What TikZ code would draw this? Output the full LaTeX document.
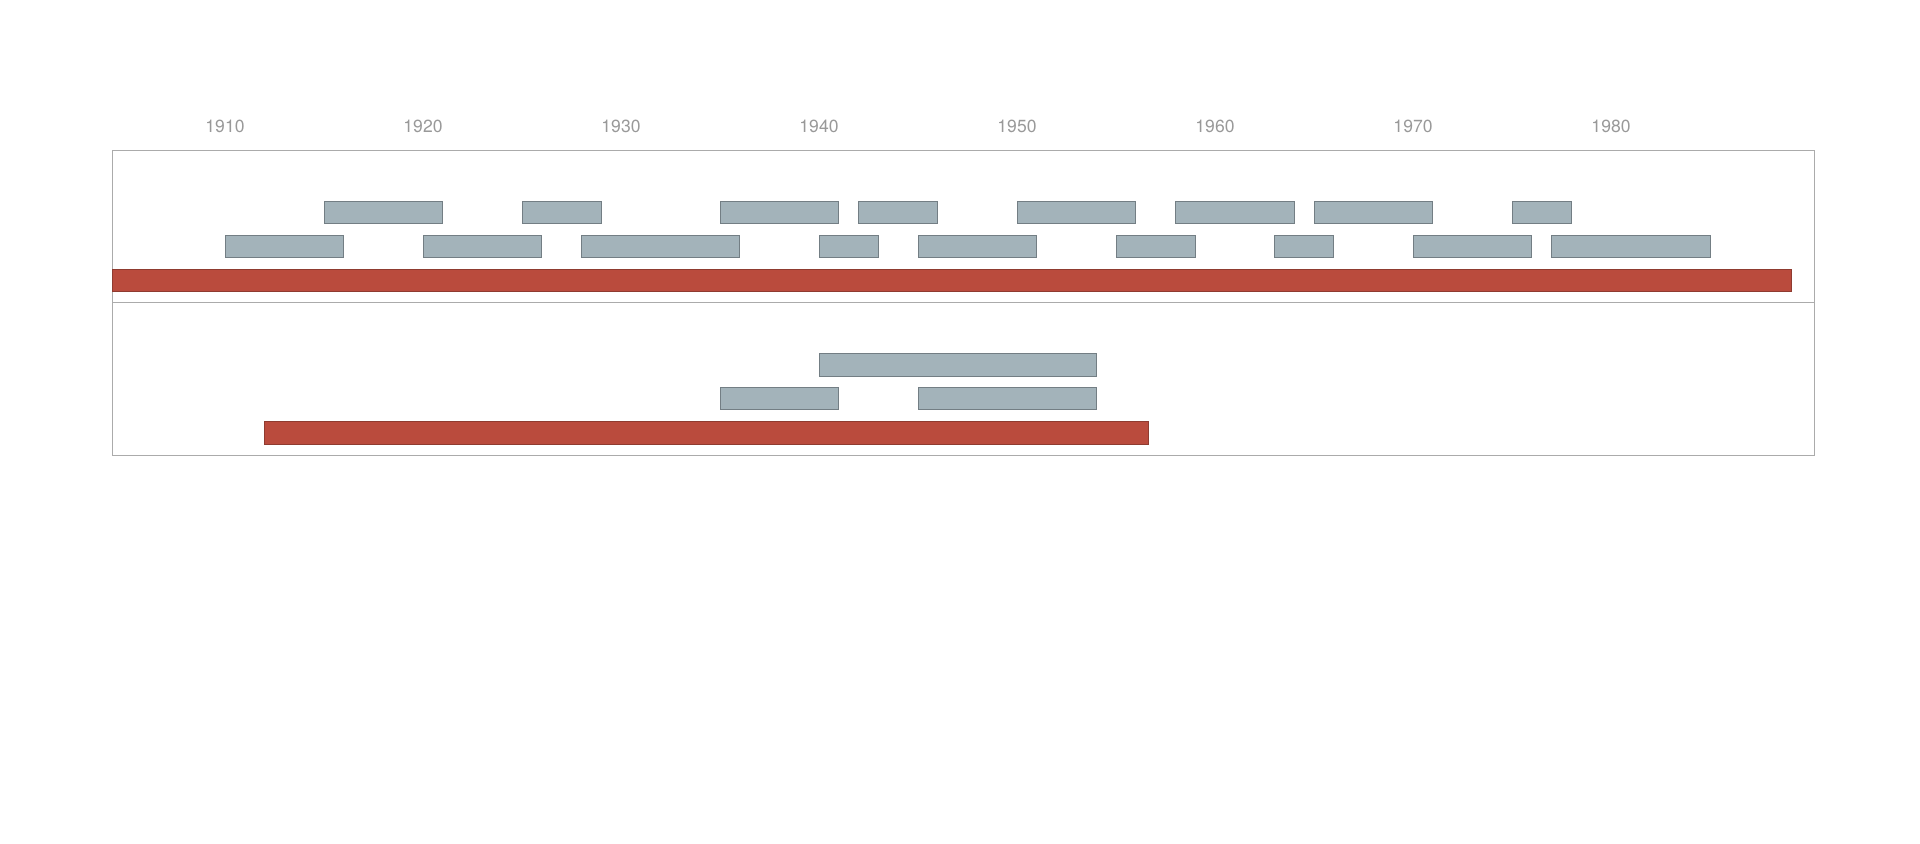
\documentclass[tikz,border=0pt]{standalone}
\usepackage{fontspec}
\setmainfont{TeX Gyre Heros}
\definecolor{barfill}{HTML}{A3B3BA}
\definecolor{barline}{HTML}{737E84}
\definecolor{lifefill}{HTML}{BA4B3D}
\definecolor{lifeline}{HTML}{8F3B30}
\definecolor{framegray}{HTML}{ABABAB}
\definecolor{yeargray}{HTML}{999999}

\begin{document}
\begin{tikzpicture}[x=0.396cm,y=-0.02cm]
\tikzset{
  yearlabel/.style={text=yeargray,font=\fontsize{10pt}{12pt}\selectfont,inner sep=0pt},
  panelframe/.style={draw=framegray,line width=0.6pt},
  periodbar/.style={fill=barfill,draw=barline,line width=0.5pt},
  lifebar/.style={fill=lifefill,draw=lifeline,line width=0.5pt}
}
\useasboundingbox (-1.3636,0) rectangle (95.606,843);
% year axis
\node[yearlabel] (y1910) at (10,126) {1910};
\node[yearlabel] (y1920) at (20,126) {1920};
\node[yearlabel] (y1930) at (30,126) {1930};
\node[yearlabel] (y1940) at (40,126) {1940};
\node[yearlabel] (y1950) at (50,126) {1950};
\node[yearlabel] (y1960) at (60,126) {1960};
\node[yearlabel] (y1970) at (70,126) {1970};
\node[yearlabel] (y1980) at (80,126) {1980};
% panels
\draw[panelframe] (4.32,150.7) rectangle (90.28,455);
\draw[panelframe] (4.32,302.5) -- (90.28,302.5);
% first panel
\draw[periodbar] (15,201) rectangle (21,223.7);
\draw[periodbar] (25,201) rectangle (29,223.7);
\draw[periodbar] (35,201) rectangle (41,223.7);
\draw[periodbar] (42,201) rectangle (46,223.7);
\draw[periodbar] (50,201) rectangle (56,223.7);
\draw[periodbar] (58,201) rectangle (64,223.7);
\draw[periodbar] (65,201) rectangle (71,223.7);
\draw[periodbar] (75,201) rectangle (78,223.7);
\draw[periodbar] (10,235) rectangle (16,257.3);
\draw[periodbar] (20,235) rectangle (26,257.3);
\draw[periodbar] (28,235) rectangle (36,257.3);
\draw[periodbar] (40,235) rectangle (43,257.3);
\draw[periodbar] (45,235) rectangle (51,257.3);
\draw[periodbar] (55,235) rectangle (59,257.3);
\draw[periodbar] (63,235) rectangle (66,257.3);
\draw[periodbar] (70,235) rectangle (76,257.3);
\draw[periodbar] (77,235) rectangle (85,257.3);
\draw[lifebar] (4.32,269) rectangle (89.1,291.7);
% second panel
\draw[periodbar] (40,353.3) rectangle (54,376.3);
\draw[periodbar] (35,387.3) rectangle (41,409.7);
\draw[periodbar] (45,387.3) rectangle (54,409.7);
\draw[lifebar] (12,421) rectangle (56.65,444);
\end{tikzpicture}
\end{document}
